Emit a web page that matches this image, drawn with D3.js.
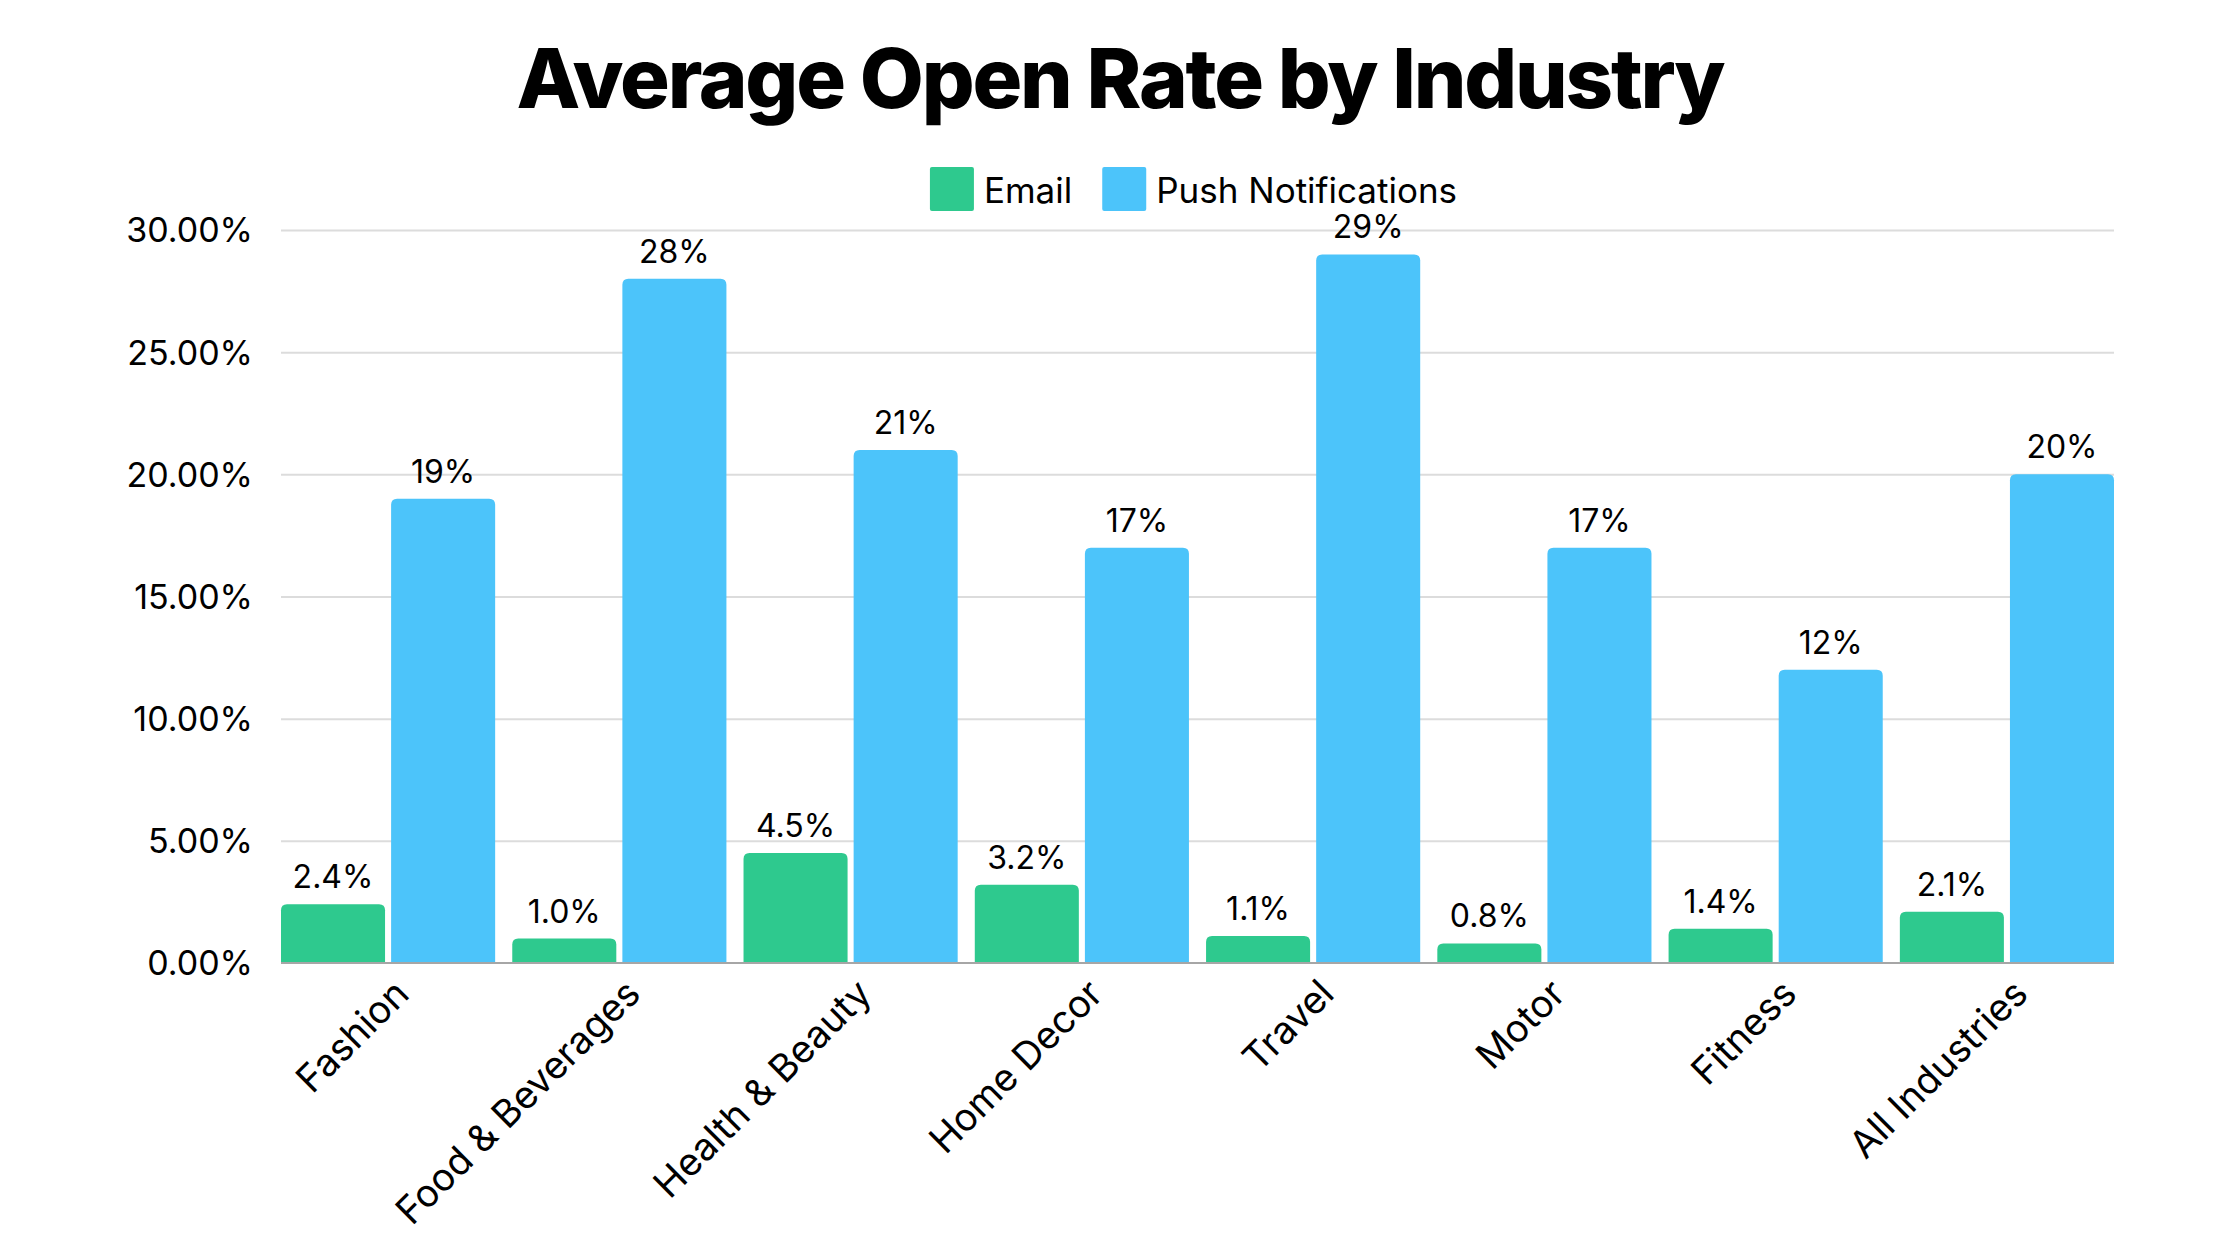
<!DOCTYPE html>
<html>
<head>
  <meta charset="utf-8">
  <title>Average Open Rate by Industry</title>
<script src="https://d3js.org/d3.v7.min.js"></script>
  <style>
    body { margin: 0; background: #fff; }
    svg { display: block; font-family: Inter, "Noto Sans", sans-serif; }
    .grid line { stroke: #dcdcdc; stroke-width: 2px; }
    .grid .domain { display: none; }
    .yaxis text { font-size: 34px; fill: #000; }
    .xlabel { font-size: 38px; fill: #000; }
    .value { font-size: 32px; fill: #000; }
  </style>
</head>
<body>
  <script>
    // data
    const industries = ["Fashion", "Food & Beverages", "Health & Beauty", "Home Decor",
                        "Travel", "Motor", "Fitness", "All Industries"];
    const series = ["Email", "Push Notifications"];
    const emailRates = [2.4, 1.0, 4.5, 3.2, 1.1, 0.8, 1.4, 2.1];
    const pushRates = [19, 28, 21, 17, 29, 17, 12, 20];
    const emailLabels = ["2.4%", "1.0%", "4.5%", "3.2%", "1.1%", "0.8%", "1.4%", "2.1%"];
    const pushLabels = ["19%", "28%", "21%", "17%", "29%", "17%", "12%", "20%"];
    const yTicks = [0, 5, 10, 15, 20, 25, 30];
    const colors = ["#2ec98e", "#4cc4fa"];

    const width = 2240, height = 1260;
    const margin = { top: 230, right: 126, bottom: 297, left: 281 };
    const plotW = width - margin.left - margin.right;
    const plotH = height - margin.top - margin.bottom;

    const svg = d3.select("body").append("svg")
        .attr("width", width)
        .attr("height", height);

    // title
    svg.append("text")
        .attr("x", width / 2)
        .attr("y", 108)
        .attr("text-anchor", "middle")
        .style("font-size", "83px")
        .style("font-weight", 800)
        .style("letter-spacing", "-2.2px")
        .text("Average Open Rate by Industry");

    const g = svg.append("g")
        .attr("transform", "translate(" + margin.left + "," + margin.top + ")");

    const x0 = d3.scaleBand().domain(industries).range([0, plotW])
        .paddingInner(0.074).paddingOuter(0);
    const x1 = d3.scaleBand().domain(series).range([0, x0.bandwidth()])
        .paddingInner(0.055).paddingOuter(0);
    const y = d3.scaleLinear().domain([0, 30]).range([plotH, 0]);

    // gridlines
    g.append("g")
        .attr("class", "grid")
        .call(d3.axisLeft(y).tickValues(yTicks).tickSize(-plotW).tickFormat(""))
        .call(a => a.selectAll(".tick").filter(d => d === 0).remove());

    // y tick labels
    g.append("g")
        .attr("class", "yaxis")
        .call(d3.axisLeft(y).tickValues(yTicks).tickSize(0).tickPadding(28)
          .tickFormat(d => d.toFixed(2) + "%"))
        .call(a => a.select(".domain").remove())
        .call(a => a.selectAll("text").attr("dy", "0.35em").style("font-family", "Inter, sans-serif"));

    const rows = industries.map((name, i) => ({
      name: name,
      vals: [
        { key: series[0], v: emailRates[i], label: emailLabels[i], c: colors[0] },
        { key: series[1], v: pushRates[i], label: pushLabels[i], c: colors[1] }
      ]
    }));

    // bar with rounded top corners
    function topRounded(x, yTop, w, h, r) {
      r = Math.min(r, h, w / 2);
      return "M" + x + "," + (yTop + h) +
        "V" + (yTop + r) +
        "Q" + x + "," + yTop + " " + (x + r) + "," + yTop +
        "H" + (x + w - r) +
        "Q" + (x + w) + "," + yTop + " " + (x + w) + "," + (yTop + r) +
        "V" + (yTop + h) + "Z";
    }

    const group = g.selectAll(".group")
        .data(rows)
        .enter().append("g")
        .attr("class", "group")
        .attr("transform", d => "translate(" + x0(d.name) + ",0)");

    group.selectAll("path")
        .data(d => d.vals)
        .enter().append("path")
        .attr("fill", d => d.c)
        .attr("d", d => topRounded(x1(d.key), y(d.v), x1.bandwidth(), plotH - y(d.v), 6));

    group.selectAll(".value")
        .data(d => d.vals)
        .enter().append("text")
        .attr("class", "value")
        .attr("x", d => x1(d.key) + x1.bandwidth() / 2)
        .attr("y", d => y(d.v) - 16)
        .attr("text-anchor", "middle")
        .text(d => d.label);

    // baseline
    g.append("line")
        .attr("x1", 0).attr("x2", plotW)
        .attr("y1", plotH).attr("y2", plotH)
        .attr("stroke", "#a6a6a6")
        .attr("stroke-width", 2);

    // rotated category labels
    g.selectAll(".xlabel")
        .data(industries)
        .enter().append("text")
        .attr("class", "xlabel")
        .attr("text-anchor", "end")
        .attr("transform", d => "translate(" + (x0(d) + x0.bandwidth() / 2 + 23) + "," + (plotH + 33) + ") rotate(-45)")
        .text(d => d);

    // legend, centred over the plot
    const legend = svg.append("g");
    let lx = 0;
    series.forEach((s, i) => {
      legend.append("rect")
          .attr("x", lx).attr("y", 0)
          .attr("width", 44).attr("height", 44)
          .attr("rx", 2)
          .attr("fill", colors[i]);
      const t = legend.append("text")
          .attr("x", lx + 54).attr("y", 36)
          .style("font-size", "35px")
          .text(s);
      lx += 54 + t.node().getComputedTextLength() + 30;
    });
    const legW = lx - 30;
    legend.attr("transform", "translate(" + (margin.left + plotW / 2 - legW / 2 - 4) + ",167)");
  </script>
</body>
</html>
